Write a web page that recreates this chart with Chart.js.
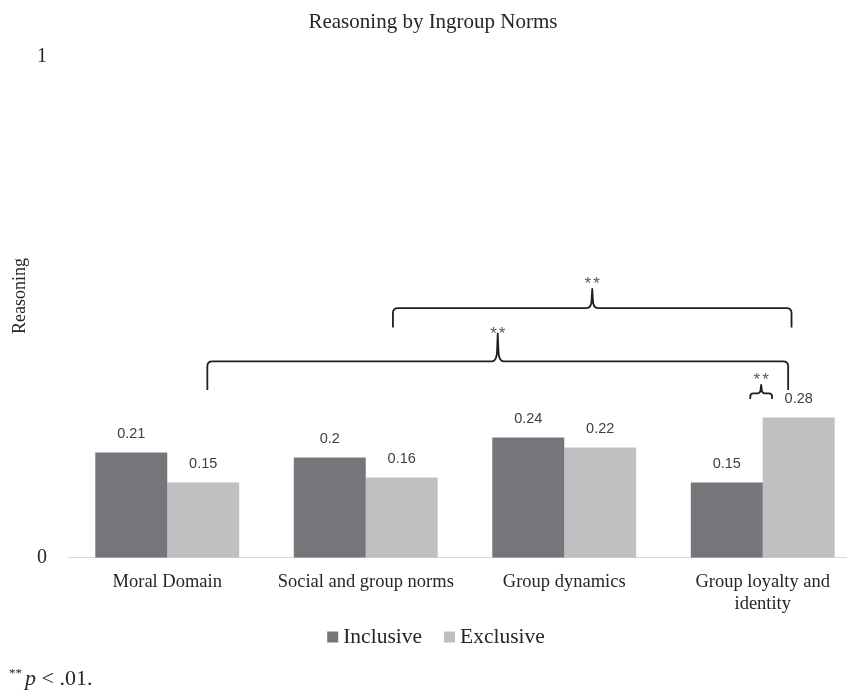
<!DOCTYPE html>
<html>
<head>
<meta charset="utf-8">
<script src="https://cdn.jsdelivr.net/npm/chart.js@4.4.1/dist/chart.umd.min.js"></script>
<style>
  html, body { margin: 0; padding: 0; background: #ffffff; overflow: hidden; }
  #wrap { width: 880px; height: 698px; position: relative; }
</style>
</head>
<body>
<div id="wrap"><canvas id="chart" width="880" height="698"></canvas></div>
<script>
// ---- data ----
const categories = ['Moral Domain', 'Social and group norms', 'Group dynamics', ['Group loyalty and', 'identity']];
const seriesNames = ['Inclusive', 'Exclusive'];
const inclusiveValues = [0.21, 0.20, 0.24, 0.15];
const exclusiveValues = [0.15, 0.16, 0.22, 0.28];
const yTickValues = [0, 1];

// ---- significance brackets (category index + offset in category widths; heights in axis units) ----
const brackets = [
  { from: [0, 0.202], to: [3, 0.128], level: 0.392, foot: 0.335, peak: 0.448, star: 0.4564 },
  { from: [1, 0.137], to: [3, 0.145], level: 0.4985, foot: 0.46, peak: 0.537, star: 0.5568 },
  { from: [3, -0.063], to: [3, 0.047], level: 0.328, foot: 0.317, peak: 0.345, star: 0.3654 }
];

const SERIF = '"Liberation Serif", "Times New Roman", serif';
const SANS = '"Liberation Sans", Arial, sans-serif';
const TEXT = '#262626';

// value labels above each bar
const valueLabels = {
  id: 'valueLabels',
  afterDatasetsDraw(chart) {
    const ctx = chart.ctx;
    ctx.save();
    ctx.font = '14.5px ' + SANS;
    ctx.fillStyle = '#404040';
    ctx.textAlign = 'center';
    ctx.textBaseline = 'middle';
    chart.data.datasets.forEach((ds, di) => {
      const meta = chart.getDatasetMeta(di);
      meta.data.forEach((bar, i) => {
        ctx.fillText(String(ds.data[i]), bar.x, bar.y - 18.5);
      });
    });
    ctx.restore();
  }
};

// curly significance brackets with asterisks
const sigBrackets = {
  id: 'sigBrackets',
  afterDatasetsDraw(chart) {
    const ctx = chart.ctx;
    const xs = chart.scales.x, ys = chart.scales.y;
    const step = xs.getPixelForValue(1) - xs.getPixelForValue(0);
    ctx.save();
    ctx.strokeStyle = '#1f1f1f';
    ctx.lineWidth = 1.8;
    ctx.lineJoin = 'round';
    brackets.forEach(b => {
      const xL = xs.getPixelForValue(b.from[0]) + b.from[1] * step;
      const xR = xs.getPixelForValue(b.to[0]) + b.to[1] * step;
      const xC = (xL + xR) / 2;
      const yLev = ys.getPixelForValue(b.level);
      const yFoot = ys.getPixelForValue(b.foot);
      const yPeak = ys.getPixelForValue(b.peak);
      const r = Math.min(5, (yFoot - yLev) * 0.6);
      const cw = Math.min(6, (yLev - yPeak) * 0.6);
      const ch = (yLev - yPeak) * 0.45;
      ctx.beginPath();
      ctx.moveTo(xL, yFoot);
      ctx.lineTo(xL, yLev + r);
      ctx.quadraticCurveTo(xL, yLev, xL + r, yLev);
      ctx.lineTo(xC - cw, yLev);
      ctx.quadraticCurveTo(xC - 0.6, yLev, xC - 0.6, yLev - ch);
      ctx.lineTo(xC, yPeak);
      ctx.lineTo(xC + 0.6, yLev - ch);
      ctx.quadraticCurveTo(xC + 0.6, yLev, xC + cw, yLev);
      ctx.lineTo(xR - r, yLev);
      ctx.quadraticCurveTo(xR, yLev, xR, yLev + r);
      ctx.lineTo(xR, yFoot);
      ctx.stroke();

      ctx.fillStyle = '#595959';
      ctx.font = '17px ' + SANS;
      ctx.textAlign = 'center';
      ctx.textBaseline = 'alphabetic';
      ctx.letterSpacing = '2px';
      ctx.fillText('**', xC + 1, ys.getPixelForValue(b.star) + 9.8);
      ctx.letterSpacing = '0px';
    });
    ctx.restore();
  }
};

// chart title, vertical axis title, series key and footnote
const annotations = {
  id: 'annotations',
  afterDraw(chart) {
    const ctx = chart.ctx;
    ctx.save();
    ctx.fillStyle = TEXT;
    ctx.textBaseline = 'middle';
    ctx.textAlign = 'center';
    ctx.font = '21px ' + SERIF;
    ctx.fillText('Reasoning by Ingroup Norms', 433, 22);

    ctx.save();
    ctx.translate(20, 296);
    ctx.rotate(-Math.PI / 2);
    ctx.font = '18px ' + SERIF;
    ctx.fillText('Reasoning', 0, 0);
    ctx.restore();

    // series key, centred under the plot
    ctx.font = '21.5px ' + SERIF;
    ctx.textAlign = 'left';
    const box = 11, boxGap = 5, itemGap = 22, keyY = 637;
    const items = chart.data.datasets.map(ds => ({
      text: ds.label, color: ds.backgroundColor, w: box + boxGap + ctx.measureText(ds.label).width
    }));
    const total = items.reduce((s, it) => s + it.w, 0) + itemGap * (items.length - 1);
    let x = 436 - total / 2;
    items.forEach(it => {
      ctx.fillStyle = it.color;
      ctx.fillRect(x, keyY - box / 2, box, box);
      ctx.fillStyle = TEXT;
      ctx.fillText(it.text, x + box + boxGap, keyY);
      x += it.w + itemGap;
    });

    // footnote
    ctx.textAlign = 'left';
    ctx.textBaseline = 'alphabetic';
    ctx.font = '13px ' + SERIF;
    ctx.fillText('**', 9, 677);
    ctx.font = 'italic 22px ' + SERIF;
    ctx.fillText('p', 25, 685);
    const pw = ctx.measureText('p').width;
    ctx.font = '22px ' + SERIF;
    ctx.fillText(' < .01.', 25 + pw, 685);
    ctx.restore();
  }
};

new Chart(document.getElementById('chart'), {
  type: 'bar',
  data: {
    labels: categories,
    datasets: [
      { label: seriesNames[0], data: inclusiveValues, backgroundColor: '#76767a', borderWidth: 0 },
      { label: seriesNames[1], data: exclusiveValues, backgroundColor: '#bfc0c2', borderWidth: 0 }
    ]
  },
  options: {
    responsive: false,
    animation: false,
    devicePixelRatio: 1,
    categoryPercentage: 0.725,
    barPercentage: 1.0,
    layout: { padding: { top: 57, right: 18, left: 0, bottom: 69.9 } },
    plugins: {
      title: { display: false },
      tooltip: { enabled: false },
      legend: { display: false }
    },
    scales: {
      x: {
        grid: { display: false, drawTicks: false },
        border: { display: true, color: '#d9d9d9', width: 1 },
        ticks: {
          padding: 13,
          color: TEXT,
          autoSkip: false,
          maxRotation: 0,
          font: { family: SERIF, size: 18.5, lineHeight: 1.2 }
        }
      },
      y: {
        min: 0,
        max: 1,
        grid: { display: false },
        border: { display: false },
        afterBuildTicks(scale) { scale.ticks = yTickValues.map(v => ({ value: v })); },
        afterFit(scale) { scale.width = 68; },
        ticks: {
          padding: 13,
          color: TEXT,
          font: { family: SERIF, size: 20 }
        }
      }
    }
  },
  plugins: [valueLabels, sigBrackets, annotations]
});
</script>
</body>
</html>
